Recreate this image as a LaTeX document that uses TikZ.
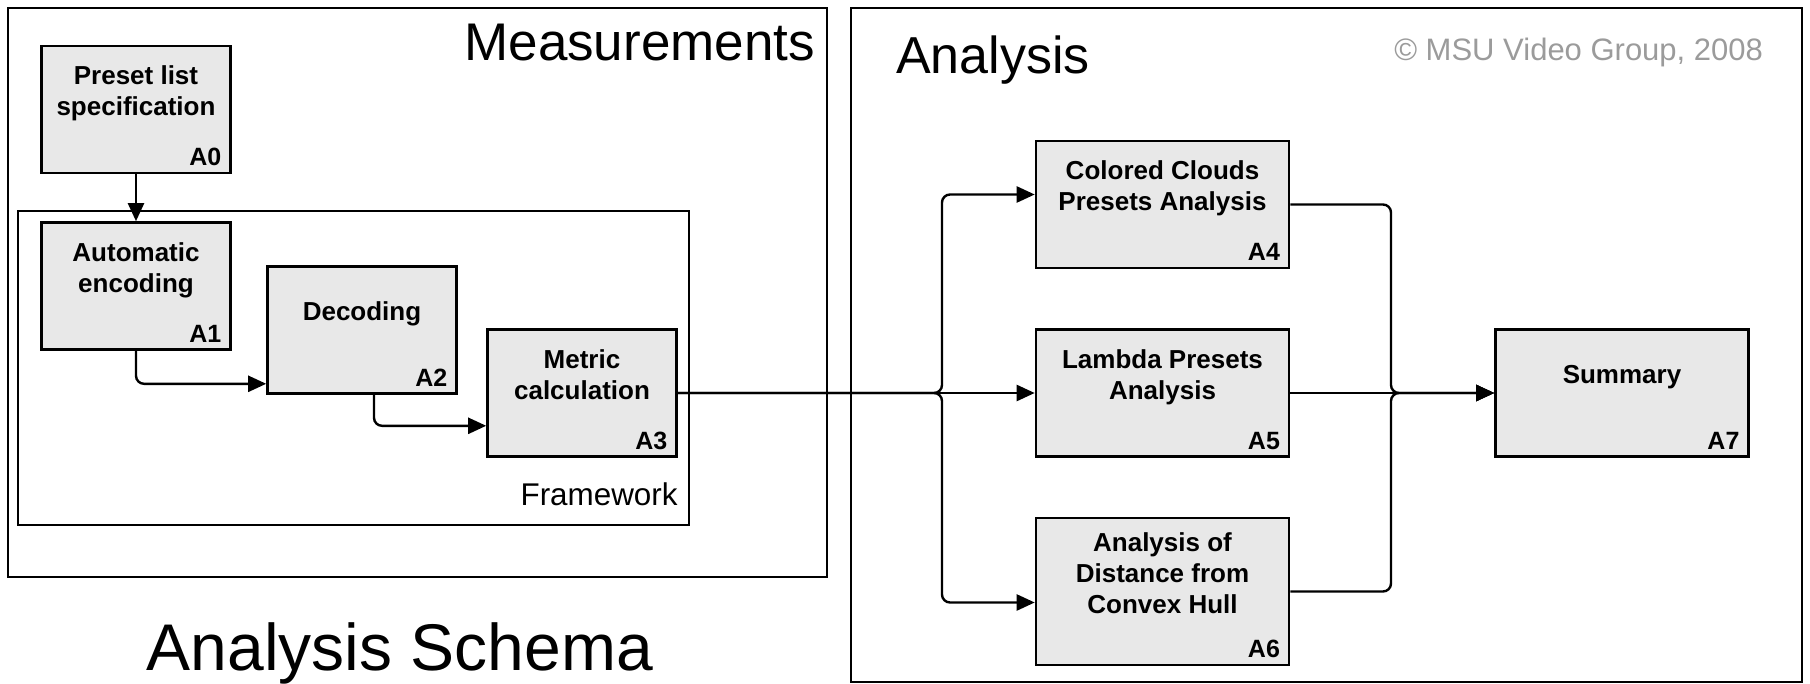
\documentclass[tikz,border=0pt]{standalone}
\usepackage{fontspec}
\setmainfont{Liberation Sans}
\usetikzlibrary{arrows.meta,calc}
\definecolor{cajagris}{RGB}{232,232,232}
\definecolor{textogris}{RGB}{155,155,155}

\begin{document}
\begin{tikzpicture}[x=0.5pt, y=-0.5pt,
		bloque/.style={draw, line width=1.3pt, fill=cajagris, minimum width=94.5pt, minimum height=63.5pt, align=center, text depth=18.5pt, font=\fontsize{13}{15.5}\selectfont\bfseries},
		ancho/.style={bloque, minimum width=126.5pt},
		etiq/.style={anchor=south east, inner xsep=5pt, inner ysep=4pt, text depth=0pt, font=\fontsize{12.5}{14}\selectfont\bfseries},
		marco/.style={draw, line width=1.2pt},
		flecha/.style={line width=1.2pt, rounded corners=4pt, -{Triangle[length=9pt,width=8pt]}}]
		
		\useasboundingbox (0,0) rectangle (1810,684);
		
		% Marcos y titulos
		\draw[marco] (8,8) rectangle (827,577);
		\node[anchor=base east, font=\fontsize{26.5}{30}\selectfont] (tmed) at (822,61) {Measurements};
		\draw[marco] (18,211) rectangle (689,525);
		\node[anchor=base east, inner sep=0pt, font=\fontsize{15.7}{18}\selectfont] (tfw) at (678,505) {Framework};
		\draw[marco] (851,8) rectangle (1802,682);
		\node[anchor=base west, font=\fontsize{26}{30}\selectfont] (tana) at (889,74) {Analysis};
		\node[anchor=base east, text=textogris, font=\fontsize{15.5}{18}\selectfont] (tcopy) at (1770,61) {© MSU Video Group, 2008};
		\node[anchor=base, font=\fontsize{33}{38}\selectfont] (ttitulo) at (400,670) {Analysis Schema};
		
		% Bloques de medicion
		\node[bloque, label={[etiq]south east:A0}] (a0) at (136,109.5) {Preset list\\specification};
		\node[bloque, label={[etiq]south east:A1}] (a1) at (136,286) {Automatic\\encoding};
		\node[bloque, label={[etiq]south east:A2}] (a2) at (362,330) {Decoding};
		\node[bloque, label={[etiq]south east:A3}] (a3) at (582,393) {Metric\\calculation};
		
		% Bloques de analisis
		\node[ancho, label={[etiq]south east:A4}] (a4) at (1162.5,204.5) {Colored Clouds\\Presets Analysis};
		\node[ancho, label={[etiq]south east:A5}] (a5) at (1162.5,393) {Lambda Presets\\Analysis};
		\node[ancho, minimum height=73.5pt, label={[etiq]south east:A6}] (a6) at (1162.5,591.5) {Analysis of\\Distance from\\Convex Hull};
		\node[ancho, label={[etiq]south east:A7}] (a7) at (1622,393) {Summary};
		
		% Flechas de medicion
		\draw[flecha] (a0.south) -- (a1.north);
		\draw[flecha] (a1.south) |- ($(a2.south west)+(0,-11)$);
		\draw[flecha] ($(a2.south)+(12,0)$) |- ($(a3.south west)+(0,-32)$);
		
		% Ramas hacia el analisis
		\coordinate (rama) at (942,393);
		\coordinate (union) at (1391,393);
		\draw[flecha] (a3.east) -- (rama) |- ($(a4.west)+(0,-10)$);
		\draw[flecha] (a3.east) -- (rama) -- (a5.west);
		\draw[flecha] (a3.east) -- (rama) |- ($(a6.west)+(0,11)$);
		
		% Hacia el resumen
		\draw[flecha] (a4.east) -| (union) -- (a7.west);
		\draw[flecha] (a5.east) -- (a7.west);
		\draw[flecha] (a6.east) -| (union) -- (a7.west);
		
	\end{tikzpicture}
\end{document}
